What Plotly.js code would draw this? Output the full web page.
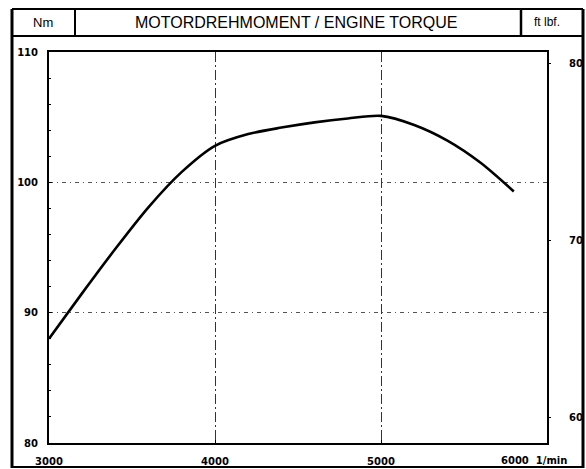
<!DOCTYPE html>
<html>
<head>
<meta charset="utf-8">
<script src="https://cdn.plot.ly/plotly-3.0.1.min.js"></script>
<style>html,body{margin:0;padding:0;background:#fff;}#chart{width:586px;height:469px;}</style>
</head>
<body>
<div id="chart"></div>
<script>
// ---- data ----
var rpm = [3000, 3200, 3400, 3600, 3800, 4000, 4200, 4400, 4600, 4800, 5000, 5200, 5400, 5600, 5800];
var torqueNm = [88.0, 91.5, 94.9, 98.1, 100.8, 102.8, 103.7, 104.2, 104.6, 104.9, 105.1, 104.4, 103.2, 101.5, 99.3];
var xTickVals = [3000, 4000, 5000];
var xTickText = ['3000', '4000', '5000'];
var xLastTick = '6000  1/min';
var yTickVals = [80, 90, 100, 110];
var y2TickVals = [60, 70, 80];
var titleText = 'MOTORDREHMOMENT / ENGINE TORQUE';
var leftUnit = 'Nm';
var rightUnit = 'ft lbf.';

// ---- layout helpers (pixel -> paper) ----
var L = 49, R = 547, T = 52, B = 443;
function px(X) { return (X - L) / (R - L); }
function py(Y) { return (B - Y) / (B - T); }

var tickFont = {family: 'DejaVu Sans', size: 10, color: '#000', weight: 'bold'};

var traces = [
  {
    x: rpm, y: torqueNm, type: 'scatter', mode: 'lines',
    line: {color: '#000', width: 2.6, shape: 'spline', smoothing: 0.8},
    hoverinfo: 'skip', showlegend: false
  },
  {
    // invisible carrier so the ft·lbf axis is drawn
    x: xTickVals, y: y2TickVals, yaxis: 'y2', type: 'scatter', mode: 'markers',
    marker: {opacity: 0}, hoverinfo: 'skip', showlegend: false
  }
];

var frame = {color: '#000', width: 2};
var shapes = [
  // outer border
  {type: 'line', xref: 'paper', yref: 'paper', x0: px(12), x1: px(12), y0: py(9), y1: py(468), line: {color: '#000', width: 3}},
  {type: 'line', xref: 'paper', yref: 'paper', x0: px(583), x1: px(583), y0: py(9), y1: py(468), line: {color: '#000', width: 3}},
  {type: 'line', xref: 'paper', yref: 'paper', x0: px(12), x1: px(583), y0: py(9), y1: py(9), line: frame},
  {type: 'line', xref: 'paper', yref: 'paper', x0: px(12), x1: px(583), y0: py(467), y1: py(467), line: frame},
  // header bottom
  {type: 'line', xref: 'paper', yref: 'paper', x0: px(12), x1: px(583), y0: py(36), y1: py(36), line: frame},
  // header dividers
  {type: 'line', xref: 'paper', yref: 'paper', x0: px(75), x1: px(75), y0: py(9), y1: py(36), line: frame},
  {type: 'line', xref: 'paper', yref: 'paper', x0: px(521), x1: px(521), y0: py(9), y1: py(36), line: {color: '#000', width: 2.5}}
];

var annotations = [
  {xref: 'paper', yref: 'paper', x: px(43), y: py(22), text: leftUnit, showarrow: false,
   font: {family: 'Liberation Sans', size: 13, color: '#000'}, xanchor: 'center', yanchor: 'middle'},
  {xref: 'paper', yref: 'paper', x: px(296), y: py(22), text: titleText, showarrow: false,
   font: {family: 'Liberation Sans', size: 16, color: '#000'}, xanchor: 'center', yanchor: 'middle'},
  {xref: 'paper', yref: 'paper', x: px(547), y: py(22), text: rightUnit, showarrow: false,
   font: {family: 'Liberation Sans', size: 12, color: '#000'}, xanchor: 'center', yanchor: 'middle'},
  {xref: 'paper', yref: 'paper', x: px(569), y: py(461), text: xLastTick, showarrow: false,
   font: tickFont, xanchor: 'right', yanchor: 'middle'}
];

var layout = {
  width: 586, height: 469,
  margin: {l: L, r: 586 - R, t: T, b: 469 - B, pad: 0},
  paper_bgcolor: '#fff', plot_bgcolor: '#fff',
  showlegend: false,
  xaxis: {
    range: [3000, 6000], tickvals: xTickVals, ticktext: xTickText,
    showline: true, linecolor: '#000', linewidth: 2, mirror: true,
    showgrid: true, gridcolor: '#333', gridwidth: 1, griddash: '10px,3px,2px,3px',
    ticks: 'inside', ticklen: 3, tickcolor: '#000',
    tickfont: tickFont, ticklabelstandoff: 8, zeroline: false, fixedrange: true
  },
  yaxis: {
    range: [80, 110], tickvals: yTickVals,
    showline: true, linecolor: '#000', linewidth: 2, mirror: true,
    showgrid: true, gridcolor: '#555', gridwidth: 1, griddash: '4px,4px,1px,4px',
    ticks: 'inside', ticklen: 3, tickcolor: '#000',
    minor: {dtick: 2, ticks: 'inside', ticklen: 2, tickcolor: '#000', showgrid: false},
    tickfont: tickFont, ticklabelstandoff: 7, zeroline: false, fixedrange: true
  },
  yaxis2: {
    overlaying: 'y', side: 'right', range: [58.59, 80.62], tickvals: y2TickVals,
    showline: false, showgrid: false, zeroline: false,
    ticks: 'outside', ticklen: 3, tickcolor: '#000',
    tickfont: tickFont, ticklabelstandoff: 16, fixedrange: true
  },
  shapes: shapes,
  annotations: annotations
};

Plotly.newPlot('chart', traces, layout, {displayModeBar: false, staticPlot: true});
</script>
</body>
</html>
